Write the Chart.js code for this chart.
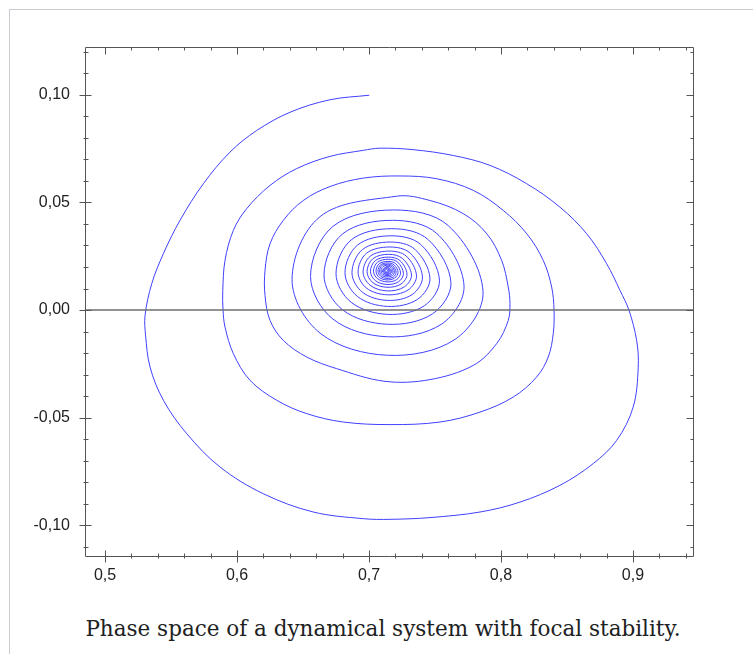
<!DOCTYPE html>
<html>
<head>
<meta charset="utf-8">
<script src="https://cdn.jsdelivr.net/npm/chart.js@4.4.0/dist/chart.umd.min.js"></script>
<style>
  html, body { margin: 0; padding: 0; background: #fff; }
  body { width: 753px; height: 654px; overflow: hidden; position: relative; }
  #frame { position: absolute; left: 9px; top: 9px; width: 800px; height: 700px; border: 1px solid #c8ccd1; }
  #wrap { position: absolute; left: 0; top: 0; width: 753px; height: 600px; }
  #caption { position: absolute; left: 0; width: 766px; top: 618px; text-align: center; white-space: nowrap;
             font: 21.5px/1 "DejaVu Serif", serif; color: #202122; }
</style>
</head>
<body>
<div id="frame"></div>
<div id="wrap"><canvas id="phase" width="753" height="600"></canvas></div>
<div id="caption">Phase space of a dynamical system with focal stability.</div>
<script>
// axis ranges and tick labels
var xRange = [0.4848, 0.9455];
var yRange = [-0.1147, 0.1222];
var xTicks = [0.5, 0.6, 0.7, 0.8, 0.9];
var yTicks = [-0.10, -0.05, 0.00, 0.05, 0.10];

// trajectory
var turn1X = [0.7002, 0.6705, 0.6402, 0.6149, 0.5947, 0.5745, 0.5568, 0.5442, 0.5354, 0.5303,
              0.5307, 0.5341, 0.5442, 0.5619, 0.5871, 0.6199, 0.6578, 0.6957, 0.7159, 0.7462,
              0.7841, 0.8144, 0.8447, 0.8699, 0.8877, 0.9002, 0.9040, 0.9028, 0.8970, 0.8902,
              0.8801, 0.8649, 0.8447, 0.8195, 0.7917, 0.7639, 0.7336, 0.7083];
var turn1Y = [0.0998, 0.0977, 0.0919, 0.0834, 0.0734, 0.0587, 0.0417, 0.0262, 0.0123, -0.0025,
              -0.0117, -0.0265, -0.0419, -0.0574, -0.0729, -0.0853, -0.0938, -0.0969, -0.0972, -0.0964,
              -0.0938, -0.0892, -0.0814, -0.0713, -0.0605, -0.0450, -0.0265, -0.0141, -0.0001, 0.0091,
              0.0215, 0.0355, 0.0478, 0.0587, 0.0672, 0.0718, 0.0745, 0.0752];

var turn2X = [0.6957, 0.6705, 0.6452, 0.6250, 0.6073, 0.5972, 0.5909, 0.5892, 0.5894, 0.5909,
              0.5972, 0.6098, 0.6301, 0.6528, 0.6805, 0.7159, 0.7538, 0.7841, 0.8093, 0.8270,
              0.8358, 0.8396, 0.8402, 0.8384, 0.8320, 0.8195, 0.8017, 0.7790, 0.7513, 0.7235];
var turn2Y = [0.0742, 0.0714, 0.0657, 0.0579, 0.0471, 0.0370, 0.0231, 0.0091, -0.0001, -0.0079,
              -0.0202, -0.0326, -0.0419, -0.0481, -0.0520, -0.0532, -0.0520, -0.0474, -0.0404, -0.0311,
              -0.0218, -0.0110, -0.0001, 0.0107, 0.0231, 0.0355, 0.0463, 0.0556, 0.0610, 0.0623];

var turn3X = [0.6957, 0.6705, 0.6502, 0.6351, 0.6250, 0.6212, 0.6212, 0.6250, 0.6351, 0.6528,
              0.6755, 0.7121, 0.7462, 0.7790, 0.7967, 0.8055, 0.8068, 0.8055, 0.8005, 0.7892,
              0.7714, 0.7462, 0.7210];
var turn3Y = [0.0613, 0.0574, 0.0509, 0.0417, 0.0308, 0.0184, 0.0068, -0.0048, -0.0141, -0.0218,
              -0.0272, -0.0331, -0.0323, -0.0257, -0.0156, -0.0048, 0.0031, 0.0107, 0.0231, 0.0355,
              0.0448, 0.0509, 0.0529];

// inner turns: upper-left, left, lower-left, bottom, lower-right, right, upper-right, next top
var coreX = [0.6629, 0.6417, 0.6629, 0.7140, 0.7652, 0.7864, 0.7601, 0.7185,
             0.6727, 0.6557, 0.6727, 0.7138, 0.7550, 0.7720, 0.7515, 0.7179,
             0.6800, 0.6659, 0.6800, 0.7140, 0.7480, 0.7621, 0.7449, 0.7173,
             0.6865, 0.6750, 0.6865, 0.7142, 0.7419, 0.7534, 0.7393, 0.7166,
             0.6913, 0.6818, 0.6913, 0.7140, 0.7368, 0.7462, 0.7348, 0.7160,
             0.6950, 0.6871, 0.6950, 0.7138, 0.7327, 0.7405, 0.7311, 0.7156,
             0.6981, 0.6917, 0.6981, 0.7138, 0.7295, 0.7360, 0.7282, 0.7153,
             0.7009, 0.6955, 0.7009, 0.7138, 0.7268, 0.7322, 0.7255, 0.7149,
             0.7030, 0.6985, 0.7030, 0.7136, 0.7243, 0.7288, 0.7234, 0.7146,
             0.7048, 0.7011, 0.7048, 0.7136, 0.7225, 0.7261, 0.7217, 0.7145,
             0.7064, 0.7034, 0.7064, 0.7136, 0.7208, 0.7239, 0.7202, 0.7143,
             0.7077, 0.7053, 0.7077, 0.7136, 0.7195, 0.7220, 0.7190, 0.7142,
             0.7088, 0.7068, 0.7088, 0.7136, 0.7185, 0.7205, 0.7180, 0.7141,
             0.7096, 0.7080, 0.7096, 0.7136, 0.7177, 0.7193, 0.7173, 0.7140,
             0.7105, 0.7091, 0.7105, 0.7136, 0.7168, 0.7182, 0.7166, 0.7139,
             0.7099, 0.7136, 0.7174, 0.7139, 0.7106, 0.7136, 0.7167, 0.7138,
             0.7114, 0.7136, 0.7159, 0.7137, 0.7121, 0.7136, 0.7152, 0.7136];
var coreY = [0.0434, 0.0141, -0.0107, -0.0210, -0.0136, 0.0086, 0.0392, 0.0465,
             0.0389, 0.0156, -0.0042, -0.0124, -0.0065, 0.0112, 0.0355, 0.0417,
             0.0354, 0.0163, 0.0001, -0.0066, -0.0018, 0.0127, 0.0327, 0.0378,
             0.0326, 0.0169, 0.0036, -0.0020, 0.0020, 0.0139, 0.0304, 0.0345,
             0.0302, 0.0173, 0.0063, 0.0017, 0.0050, 0.0148, 0.0282, 0.0316,
             0.0281, 0.0173, 0.0083, 0.0045, 0.0072, 0.0154, 0.0265, 0.0293,
             0.0264, 0.0176, 0.0102, 0.0071, 0.0093, 0.0159, 0.0251, 0.0274,
             0.0250, 0.0177, 0.0115, 0.0089, 0.0108, 0.0163, 0.0239, 0.0259,
             0.0239, 0.0178, 0.0127, 0.0106, 0.0121, 0.0167, 0.0230, 0.0246,
             0.0230, 0.0180, 0.0137, 0.0119, 0.0132, 0.0170, 0.0223, 0.0236,
             0.0222, 0.0181, 0.0146, 0.0131, 0.0141, 0.0173, 0.0216, 0.0226,
             0.0215, 0.0181, 0.0152, 0.0140, 0.0149, 0.0175, 0.0210, 0.0219,
             0.0210, 0.0181, 0.0157, 0.0147, 0.0154, 0.0176, 0.0206, 0.0213,
             0.0206, 0.0182, 0.0162, 0.0154, 0.0160, 0.0178, 0.0202, 0.0208,
             0.0201, 0.0182, 0.0166, 0.0160, 0.0164, 0.0179, 0.0198, 0.0203,
             0.0182, 0.0164, 0.0179, 0.0200, 0.0182, 0.0168, 0.0180, 0.0196,
             0.0181, 0.0173, 0.0181, 0.0191, 0.0183, 0.0177, 0.0182, 0.0184];

var allX = turn1X.concat(turn2X, turn3X, coreX);
var allY = turn1Y.concat(turn2Y, turn3Y, coreY);
var points = [];
for (var i = 0; i < Math.min(allX.length, allY.length); i++) {
    points.push({x: allX[i], y: allY[i]});
}

function comma(v, d) {
    if (Math.abs(v) < 1e-9) v = 0;
    return v.toFixed(d).replace('.', ',');
}

// box frame, zero line and tick marks (major + minor) on all four sides
var axisBox = {
    id: 'axisBox',
    afterDatasetsDraw: function(chart) {
        var ctx = chart.ctx, a = chart.chartArea;
        var xs = chart.scales.x, ys = chart.scales.y;
        var L = Math.round(a.left) + 0.5, R = Math.round(a.right) + 0.5;
        var T = Math.round(a.top) + 0.5, B = Math.round(a.bottom) - 0.5;
        ctx.save();

        var y0 = ys.getPixelForValue(0);
        ctx.strokeStyle = '#6e6e6e';
        ctx.lineWidth = 1.5;
        ctx.beginPath();
        ctx.moveTo(L, y0);
        ctx.lineTo(R, y0);
        ctx.stroke();

        ctx.strokeStyle = '#555';
        ctx.lineWidth = 1;
        ctx.beginPath();
        ctx.moveTo(L, T); ctx.lineTo(R, T); ctx.lineTo(R, B); ctx.lineTo(L, B); ctx.closePath();

        var i, p, major;
        for (i = 25; i <= 47; i++) {
            p = Math.round(xs.getPixelForValue(i * 0.02)) + 0.5;
            major = i % 5 === 0;
            ctx.moveTo(p, B + (major ? 6 : 2)); ctx.lineTo(p, B - (major ? 6 : 3));
            ctx.moveTo(p, T); ctx.lineTo(p, T + (major ? 7 : 3));
        }
        for (i = -11; i <= 12; i++) {
            p = Math.round(ys.getPixelForValue(i * 0.01)) + 0.5;
            major = i % 5 === 0;
            ctx.moveTo(L - (major ? 6 : 2), p); ctx.lineTo(L + (major ? 6 : 3), p);
            ctx.moveTo(R, p); ctx.lineTo(R - (major ? 7 : 3), p);
        }
        ctx.stroke();
        ctx.restore();
    }
};

var tickFont = {family: '"Liberation Sans", Arial, sans-serif', size: 16};

new Chart(document.getElementById('phase').getContext('2d'), {
    type: 'line',
    data: {
        datasets: [{
            data: points,
            borderColor: '#4040ff',
            borderWidth: 1,
            pointRadius: 0,
            tension: 0.35,
            fill: false
        }]
    },
    options: {
        responsive: false,
        animation: false,
        devicePixelRatio: 1,
        layout: {padding: {top: 47, right: 60, left: 0, bottom: 0}},
        plugins: {legend: {display: false}, tooltip: {enabled: false}},
        scales: {
            x: {
                type: 'linear',
                min: xRange[0],
                max: xRange[1],
                afterFit: function(s) { s.height = 43; },
                afterBuildTicks: function(s) { s.ticks = xTicks.map(function(v) { return {value: v}; }); },
                grid: {display: false, drawTicks: false},
                border: {display: false},
                ticks: {
                    padding: 9, color: '#222', font: tickFont, autoSkip: false, maxRotation: 0,
                    callback: function(v) { return comma(v, 1); }
                }
            },
            y: {
                type: 'linear',
                min: yRange[0],
                max: yRange[1],
                afterFit: function(s) { s.width = 85; },
                afterBuildTicks: function(s) { s.ticks = yTicks.map(function(v) { return {value: v}; }); },
                grid: {display: false, drawTicks: false},
                border: {display: false},
                ticks: {
                    padding: 15, color: '#222', font: tickFont, autoSkip: false,
                    callback: function(v) { return comma(v, 2); }
                }
            }
        }
    },
    plugins: [axisBox]
});
</script>
</body>
</html>
